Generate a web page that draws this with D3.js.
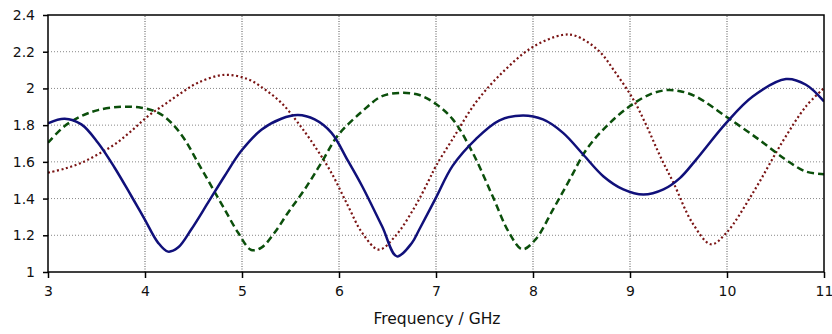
<!DOCTYPE html>
<html>
<head>
<meta charset="utf-8">
<script src="https://cdn.jsdelivr.net/npm/d3@7"></script>
<style>
  body { margin: 0; background: #fff; }
  text { font-family: "DejaVu Sans", Verdana, sans-serif; }
</style>
</head>
<body>
<div id="chart"></div>
<script>
// data (GHz, value)
const xTicks = [3, 4, 5, 6, 7, 8, 9, 10, 11];
const yTicks = [1, 1.2, 1.4, 1.6, 1.8, 2, 2.2, 2.4];

// solid navy
const blueFreq = [3.0, 3.172, 3.344, 3.515, 3.687, 3.859, 3.997, 4.134, 4.237, 4.34, 4.478, 4.65, 4.821, 4.993, 5.2, 5.405, 5.577, 5.749, 5.921, 6.093, 6.239, 6.444, 6.597, 6.751, 6.829, 7.0, 7.171, 7.411, 7.655, 7.897, 8.103, 8.31, 8.517, 8.724, 8.931, 9.138, 9.345, 9.517, 9.68, 9.99, 10.265, 10.608, 10.814, 11.0];
const blueVal = [1.81, 1.835, 1.804, 1.704, 1.568, 1.414, 1.287, 1.16, 1.111, 1.133, 1.233, 1.378, 1.523, 1.66, 1.775, 1.835, 1.855, 1.831, 1.759, 1.605, 1.467, 1.249, 1.085, 1.158, 1.233, 1.405, 1.578, 1.724, 1.826, 1.853, 1.831, 1.758, 1.64, 1.522, 1.45, 1.422, 1.45, 1.513, 1.611, 1.811, 1.956, 2.051, 2.02, 1.929];

// dashed green
const greenFreq = [3.0, 3.172, 3.344, 3.515, 3.756, 3.962, 4.134, 4.271, 4.409, 4.546, 4.684, 4.821, 4.959, 5.096, 5.2, 5.337, 5.474, 5.646, 5.818, 5.99, 6.239, 6.444, 6.648, 6.829, 7.0, 7.171, 7.377, 7.582, 7.753, 7.89, 8.027, 8.207, 8.379, 8.552, 8.759, 9.0, 9.207, 9.379, 9.517, 9.68, 9.99, 10.333, 10.608, 10.814, 11.0];
const greenVal = [1.704, 1.795, 1.849, 1.882, 1.9, 1.895, 1.868, 1.813, 1.722, 1.595, 1.468, 1.341, 1.215, 1.12, 1.133, 1.215, 1.323, 1.45, 1.595, 1.745, 1.875, 1.958, 1.976, 1.964, 1.915, 1.833, 1.651, 1.415, 1.215, 1.124, 1.178, 1.341, 1.504, 1.668, 1.795, 1.904, 1.968, 1.991, 1.985, 1.956, 1.847, 1.72, 1.611, 1.547, 1.533];

// dotted brown
const brownFreq = [3.0, 3.172, 3.344, 3.515, 3.687, 3.859, 4.031, 4.203, 4.375, 4.546, 4.82, 5.062, 5.234, 5.405, 5.577, 5.749, 5.921, 6.093, 6.239, 6.41, 6.58, 6.785, 6.922, 7.0, 7.171, 7.411, 7.685, 7.993, 8.301, 8.438, 8.678, 8.849, 9.034, 9.172, 9.31, 9.448, 9.646, 9.835, 9.99, 10.265, 10.574, 10.814, 11.0];
const brownVal = [1.541, 1.563, 1.595, 1.641, 1.695, 1.768, 1.849, 1.913, 1.976, 2.031, 2.074, 2.05, 1.995, 1.922, 1.813, 1.686, 1.541, 1.36, 1.213, 1.122, 1.195, 1.358, 1.495, 1.578, 1.724, 1.924, 2.087, 2.224, 2.291, 2.287, 2.205, 2.087, 1.94, 1.795, 1.632, 1.486, 1.265, 1.151, 1.211, 1.429, 1.711, 1.902, 2.002];

const width = 832;
const height = 334;
const margin = { top: 15, right: 8, bottom: 62, left: 48 };

const svg = d3.select('#chart').append('svg')
    .attr('width', width)
    .attr('height', height);

const x = d3.scaleLinear().domain([3, 11]).range([margin.left, width - margin.right]);
const y = d3.scaleLinear().domain([1, 2.4]).range([height - margin.bottom, margin.top]);

// grid
const grid = svg.append('g').attr('class', 'grid');
grid.selectAll('.vgrid')
    .data(xTicks.slice(1, -1))
    .enter().append('line')
    .attr('x1', d => x(d)).attr('x2', d => x(d))
    .attr('y1', y(1)).attr('y2', y(2.4))
    .attr('stroke', '#555')
    .attr('stroke-width', 1)
    .attr('stroke-dasharray', '1,1.5');
grid.selectAll('.hgrid')
    .data(yTicks.slice(1, -1))
    .enter().append('line')
    .attr('x1', x(3)).attr('x2', x(11))
    .attr('y1', d => y(d)).attr('y2', d => y(d))
    .attr('stroke', '#888')
    .attr('stroke-width', 1)
    .attr('stroke-dasharray', '1,2');

// clip so curves stay in the frame
svg.append('clipPath').attr('id', 'plot')
    .append('rect')
    .attr('x', x(3)).attr('y', y(2.4))
    .attr('width', x(11) - x(3)).attr('height', y(1) - y(2.4));

const plot = svg.append('g').attr('clip-path', 'url(#plot)');

function drawSeries(freq, vals, color, dash, w) {
  const pts = freq.map((f, i) => [f, vals[i]]);
  const line = d3.line()
      .x(d => x(d[0]))
      .y(d => y(d[1]))
      .curve(d3.curveCatmullRom.alpha(0.5));
  plot.append('path')
      .datum(pts)
      .attr('fill', 'none')
      .attr('stroke', color)
      .attr('stroke-width', w)
      .attr('stroke-dasharray', dash)
      .attr('d', line);
}

drawSeries(brownFreq, brownVal, '#7a1414', '2,2.6', 2.2);
drawSeries(greenFreq, greenVal, '#0b4f0b', '7,4', 2.5);
drawSeries(blueFreq, blueVal, '#10107a', null, 2.5);

// frame
svg.append('rect')
    .attr('x', x(3)).attr('y', y(2.4))
    .attr('width', x(11) - x(3)).attr('height', y(1) - y(2.4))
    .attr('fill', 'none')
    .attr('stroke', '#000')
    .attr('stroke-width', 1.5);

// axes
const xAxis = d3.axisBottom(x).tickValues(xTicks).tickSize(6).tickPadding(8).tickFormat(d3.format('d'));
const xAxisGroup = svg.append('g')
    .attr('transform', 'translate(0,' + y(1) + ')')
    .call(xAxis);

const yAxis = d3.axisLeft(y).tickValues(yTicks).tickSize(5).tickPadding(8).tickFormat(d => String(+d.toFixed(1)));
const yAxisGroup = svg.append('g')
    .attr('transform', 'translate(' + x(3) + ',0)')
    .call(yAxis);

[xAxisGroup, yAxisGroup].forEach(g => {
  g.select('.domain').remove();
  g.selectAll('.tick line').attr('stroke', '#000').attr('stroke-width', 1.5);
  g.selectAll('.tick text')
      .attr('fill', '#111')
      .style('font-size', '14px')
      .style('font-family', '"DejaVu Sans", Verdana, sans-serif');
});

svg.append('text')
    .attr('x', 437)
    .attr('y', 324)
    .attr('text-anchor', 'middle')
    .attr('fill', '#111')
    .style('font-size', '15.5px')
    .text('Frequency / GHz');
</script>
</body>
</html>
